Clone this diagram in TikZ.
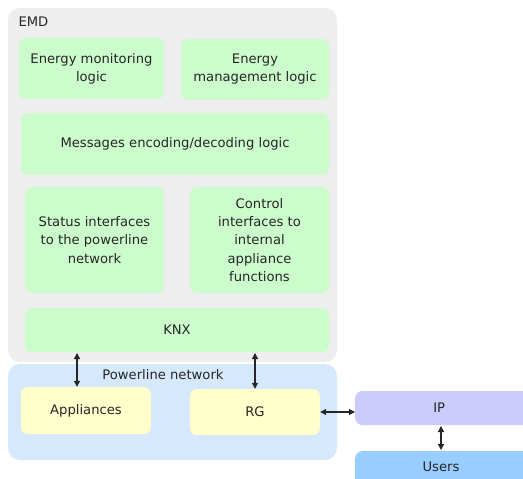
\documentclass[tikz,border=0pt]{standalone}
\usepackage{fontspec}
\setmainfont{DejaVu Sans}
\usetikzlibrary{arrows.meta}
\definecolor{emdgray}{HTML}{EEEEEE}
\definecolor{logicgreen}{HTML}{CCFCCC}
\definecolor{plcblue}{HTML}{D6E8FC}
\definecolor{devyellow}{HTML}{FFFFCC}
\definecolor{ipviolet}{HTML}{CCCCFC}
\definecolor{userblue}{HTML}{99CCFF}
\begin{document}
\begin{tikzpicture}[x=1bp,y=-1bp,
  every node/.style={font=\fontsize{13.2}{18.2}\selectfont, text=black!85},
  area/.style={rounded corners=12bp, fill=#1},
  block/.style={draw=none, fill=#1, rounded corners=7bp, align=center, inner sep=0pt},
  link/.style={{Triangle[length=6bp,width=6bp]}-{Triangle[length=6bp,width=6bp]}, line width=1.2bp, black!85}]
\useasboundingbox (0,0) rectangle (523,479);
% containers
\fill[area=emdgray] (8,8) rectangle (337,362);
\fill[area=plcblue] (8,364) rectangle (337,460);
\node[anchor=west] (emd) at (15,22) {EMD};
\node (plc) at (163,375) {Powerline network};
% EMD internals
\node[block=logicgreen, minimum width=145bp, minimum height=61bp] (mon) at (91.5,68.5) {Energy monitoring\\logic};
\node[block=logicgreen, minimum width=148bp, minimum height=61bp] (man) at (255,69.5) {Energy\\management logic};
\node[block=logicgreen, minimum width=308bp, minimum height=62bp] (msg) at (175,144) {Messages encoding/decoding logic};
\node[block=logicgreen, minimum width=139bp, minimum height=106bp] (stat) at (94.5,240) {Status interfaces\\to the powerline\\network};
\node[block=logicgreen, minimum width=139bp, minimum height=106bp] (ctrl) at (259.5,240) {Control\\interfaces to\\internal\\appliance\\functions};
\node[block=logicgreen, minimum width=304bp, minimum height=44bp] (knx) at (177,330) {KNX};
% powerline devices
\node[block=devyellow, minimum width=130bp, minimum height=47bp] (app) at (86,410.5) {Appliances};
\node[block=devyellow, minimum width=130bp, minimum height=46bp] (rg) at (255,412) {RG};
% outside world
\node[block=ipviolet, minimum width=180bp, minimum height=34bp, anchor=west] (ip) at (355,408) {\hspace*{-12bp}IP};
\node[block=userblue, minimum width=180bp, minimum height=40bp, anchor=north west] (users) at (355,451) {};
\node at (441,467) {Users};
% connectors
\coordinate (k1) at (77,353);
\coordinate (k2) at (255,353);
\draw[link] (k1) -- (k1 |- app.north);
\draw[link] (k2) -- (rg.north);
\draw[link] (rg.east) -- (ip.west |- rg.east);
\draw[link] (441,426) -- (441,450);
\end{tikzpicture}
\end{document}
